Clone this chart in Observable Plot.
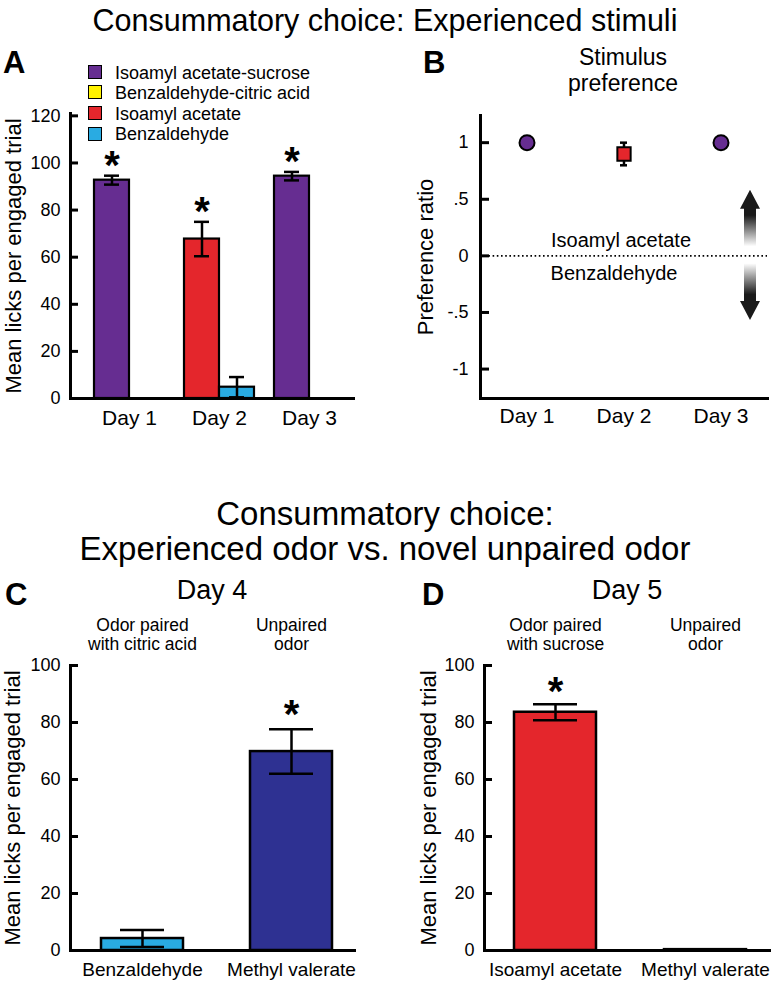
<!DOCTYPE html>
<html>
<head>
<meta charset="utf-8">
<script src="https://cdn.jsdelivr.net/npm/d3@7"></script>
<script src="https://cdn.jsdelivr.net/npm/@observablehq/plot@0.6"></script>
<style>
  body { margin: 0; background: #fff; }
  #fig { position: relative; width: 771px; height: 983px; overflow: hidden; background: #fff;
         font-family: "Liberation Sans", Arial, Helvetica, sans-serif; color: #000; }
  .t { position: absolute; white-space: nowrap; }
  .sw { position: absolute; width: 12px; height: 12px; border: 1.5px solid #000; }
</style>
</head>
<body>
<div id="fig"></div>
<script>
// ---------------- DATA ----------------
const days = ["Day 1", "Day 2", "Day 3"];
const stimuli = ["Isoamyl acetate-sucrose", "Benzaldehyde-citric acid", "Isoamyl acetate", "Benzaldehyde"];
const stimulusColors = ["#662d91", "#fff200", "#e4262c", "#29abe2"];

// Panel A: mean licks per engaged trial, two stimuli per day
const aFirstStim = ["Isoamyl acetate-sucrose", "Isoamyl acetate", "Isoamyl acetate-sucrose"];
const aFirstMean = [92.7, 67.7, 94.4];
const aFirstSem = [1.9, 7.3, 1.8];
const aSecondStim = ["Benzaldehyde-citric acid", "Benzaldehyde", "Benzaldehyde-citric acid"];
const aSecondMean = [0, 4.8, 0];
const aSecondSem = [0, 4.3, 0];
const aSignificant = [true, true, true];
const licksTicksA = [0, 20, 40, 60, 80, 100, 120];

// Panel B: preference ratio
const bStim = ["Isoamyl acetate-sucrose", "Isoamyl acetate", "Isoamyl acetate-sucrose"];
const bPref = [1, 0.9, 1];
const bSem = [0, 0.1, 0];
const bTicks = [-1, -0.5, 0, 0.5, 1];
const bTickLabels = ["-1", "-.5", "0", ".5", "1"];
const bZoneLabels = ["Isoamyl acetate", "Benzaldehyde"];
const bArrows = [{from: 0.08, to: 0.58}, {from: -0.07, to: -0.57}];

// Panel C: Day 4
const cOdors = ["Benzaldehyde", "Methyl valerate"];
const cHeaders = ["Odor paired\nwith citric acid", "Unpaired\nodor"];
const cMean = [4.2, 69.8];
const cSem = [3.0, 7.8];
const cColors = ["#29abe2", "#2e3192"];
const cSignificant = [false, true];

// Panel D: Day 5
const dOdors = ["Isoamyl acetate", "Methyl valerate"];
const dHeaders = ["Odor paired\nwith sucrose", "Unpaired\nodor"];
const dMean = [83.6, 0.3];
const dSem = [2.8, 0];
const dColors = ["#e4262c", "#2e3192"];
const dSignificant = [true, false];
const licksTicksCD = [0, 20, 40, 60, 80, 100];

// ---------------- HELPERS ----------------
const FONT = "'Liberation Sans', Arial, Helvetica, sans-serif";
const fig = document.getElementById("fig");
const svgStyle = {fontFamily: FONT, fontSize: "18px", color: "black", background: "transparent", overflow: "visible"};

function place(svg, left, top) {
  svg.style.position = "absolute";
  svg.style.left = left + "px";
  svg.style.top = top + "px";
  fig.appendChild(svg);
}
// HTML text positioned by its first baseline
function addText(str, {x, baseline, size, weight = "normal", anchor = "middle", lh = 1}) {
  const el = document.createElement("div");
  el.className = "t";
  el.style.fontSize = size + "px";
  el.style.fontWeight = weight;
  el.style.lineHeight = (lh * size) + "px";
  el.style.textAlign = anchor === "middle" ? "center" : "left";
  el.innerHTML = str.split("\n").join("<br>");
  const top = baseline - ((lh - 1.117) / 2 + 0.905) * size;
  el.style.top = top + "px";
  el.style.left = x + "px";
  if (anchor === "middle") el.style.transform = "translateX(-50%)";
  fig.appendChild(el);
}

function yAxisMarks(ticks, {tickLen, pad, labels, title, titleOffset}) {
  return [
    Plot.frame({anchor: "left", strokeWidth: 3}),
    Plot.axisY(ticks, {tickSize: tickLen, dx: tickLen, tickFormat: () => "", strokeWidth: 3, label: null}),
    Plot.axisY(ticks, {tickSize: 0, tickPadding: pad, fontSize: 18, label: null,
      tickFormat: labels ? (d => labels[ticks.indexOf(d)]) : (d => String(d))}),
    Plot.text([title], {frameAnchor: "left", textAnchor: "middle", rotate: -90, dx: -titleOffset, fontSize: 22})
  ];
}

// ---------------- PANEL A ----------------
const aRows = days.flatMap((day, i) => [
  {day, slot: 0, stim: aFirstStim[i], mean: aFirstMean[i], sem: aFirstSem[i], sig: aSignificant[i]},
  {day, slot: 1, stim: aSecondStim[i], mean: aSecondMean[i], sem: aSecondSem[i], sig: false}
]);
const aSlot0 = aRows.filter(d => d.slot === 0);
const aSlot1 = aRows.filter(d => d.slot === 1);
const errTop = d => d.mean + d.sem, errBot = d => d.mean - d.sem;

const plotA = Plot.plot({
  width: 385, height: 440, marginLeft: 70, marginRight: 30, marginTop: 113, marginBottom: 42,
  style: svgStyle,
  x: {domain: days, paddingInner: 0.2265, paddingOuter: 0.188, align: 0.676},
  y: {domain: [0, 121]},
  color: {domain: stimuli, range: stimulusColors},
  marks: [
    Plot.barY(aSlot0, {x: "day", y: "mean", fill: "stim", stroke: "black", strokeWidth: 2.2, insetRight: 35}),
    Plot.barY(aSlot1, {x: "day", y: "mean", fill: "stim", stroke: "black", strokeWidth: 2.2, insetLeft: 35}),
    Plot.ruleX(aSlot0.filter(d => d.sem > 0), {x: "day", y1: errBot, y2: errTop, dx: -17.5, strokeWidth: 2.5}),
    Plot.ruleX(aSlot1.filter(d => d.sem > 0), {x: "day", y1: errBot, y2: errTop, dx: 17.5, strokeWidth: 2.5}),
    Plot.tickY(aSlot0.filter(d => d.sem > 0), {x: "day", y: errTop, insetLeft: 10, insetRight: 45, strokeWidth: 2.5}),
    Plot.tickY(aSlot0.filter(d => d.sem > 0), {x: "day", y: errBot, insetLeft: 10, insetRight: 45, strokeWidth: 2.5}),
    Plot.tickY(aSlot1.filter(d => d.sem > 0), {x: "day", y: errTop, insetLeft: 45, insetRight: 10, strokeWidth: 2.5}),
    Plot.tickY(aSlot1.filter(d => d.sem > 0), {x: "day", y: errBot, insetLeft: 45, insetRight: 10, strokeWidth: 2.5}),
    Plot.text(aSlot0.filter(d => d.sig), {x: "day", y: errTop, text: () => "*", dx: -17.5, dy: 3,
      lineAnchor: "bottom", fontSize: 40, fontWeight: "bold"}),
    Plot.ruleY([0], {strokeWidth: 3}),
    ...yAxisMarks(licksTicksA, {tickLen: 8, pad: 10, title: "Mean licks per engaged trial", titleOffset: 57}),
    Plot.axisX({tickSize: 0, tickPadding: 12, fontSize: 21, label: null})
  ]
});
place(plotA, 0, 0);

// ---------------- PANEL B ----------------
const bRows = days.map((day, i) => ({day, stim: bStim[i], pref: bPref[i], sem: bSem[i]}));

function gradientArrows(index, scales, values, dims) {
  const ns = "http://www.w3.org/2000/svg";
  const g = document.createElementNS(ns, "g");
  const defs = document.createElementNS(ns, "defs");
  g.appendChild(defs);
  const x = dims.width - dims.marginRight - 17;
  bArrows.forEach((a, i) => {
    const y0 = scales.y(a.from), y1 = scales.y(a.to);
    const dir = Math.sign(y1 - y0);
    const head = 19, hw = 10, sw = 6;
    const yh = y1 - dir * head;
    const id = "arrowGrad" + i;
    const grad = document.createElementNS(ns, "linearGradient");
    grad.setAttribute("id", id);
    grad.setAttribute("x1", "0"); grad.setAttribute("y1", "0");
    grad.setAttribute("x2", "0"); grad.setAttribute("y2", "1");
    const stops = dir < 0
      ? [[0, "#1a1a1a"], [0.45, "#1a1a1a"], [1, "#ffffff"]]
      : [[0, "#ffffff"], [0.55, "#1a1a1a"], [1, "#1a1a1a"]];
    for (const [o, c] of stops) {
      const s = document.createElementNS(ns, "stop");
      s.setAttribute("offset", o); s.setAttribute("stop-color", c);
      grad.appendChild(s);
    }
    defs.appendChild(grad);
    const p = document.createElementNS(ns, "path");
    p.setAttribute("d", `M${x - sw},${y0}L${x - sw},${yh}L${x - hw},${yh}L${x},${y1}L${x + hw},${yh}L${x + sw},${yh}L${x + sw},${y0}Z`);
    p.setAttribute("fill", `url(#${id})`);
    g.appendChild(p);
  });
  return g;
}

const plotB = Plot.plot({
  width: 391, height: 440, marginLeft: 100, marginRight: 4, marginTop: 115, marginBottom: 42,
  style: svgStyle,
  x: {domain: days, paddingInner: 0.5, paddingOuter: 0.222},
  y: {domain: [-1.26, 1.24]},
  color: {domain: stimuli, range: stimulusColors},
  symbol: {domain: stimuli, range: ["circle", "circle", "square", "square"]},
  marks: [
    Plot.ruleY([0], {strokeDasharray: "1.6,2.6", strokeWidth: 1.8}),
    Plot.text([bZoneLabels[0]], {x: () => "Day 2", y: () => 0, dx: -3, dy: -9, lineAnchor: "bottom", fontSize: 20}),
    Plot.text([bZoneLabels[1]], {x: () => "Day 2", y: () => 0, dx: -10, dy: 10, lineAnchor: "top", fontSize: 20}),
    gradientArrows,
    Plot.ruleX(bRows.filter(d => d.sem > 0), {x: "day", y1: d => d.pref - d.sem, y2: d => d.pref + d.sem, strokeWidth: 2.5}),
    Plot.tickY(bRows.filter(d => d.sem > 0), {x: "day", y: d => d.pref + d.sem, insetLeft: 21, insetRight: 21, strokeWidth: 2.5}),
    Plot.tickY(bRows.filter(d => d.sem > 0), {x: "day", y: d => d.pref - d.sem, insetLeft: 21, insetRight: 21, strokeWidth: 2.5}),
    Plot.dot(bRows, {x: "day", y: "pref", fill: "stim", symbol: "stim", r: 7.5, stroke: "black", strokeWidth: 2}),
    Plot.frame({anchor: "bottom", strokeWidth: 3}),
    ...yAxisMarks(bTicks, {tickLen: 9, pad: 12, labels: bTickLabels, title: "Preference ratio", titleOffset: 55}),
    Plot.axisX({tickSize: 0, tickPadding: 10, fontSize: 21, label: null})
  ]
});
place(plotB, 380, 0);

// ---------------- PANELS C & D ----------------
function dayPanel(odors, headers, means, sems, colors, sig, {width, marginLeft, marginRight, titleOffset, starDy, align}) {
  const rows = odors.map((odor, i) => ({odor, mean: means[i], sem: sems[i], color: colors[i], sig: sig[i]}));
  const withErr = rows.filter(d => d.sem > 0);
  return Plot.plot({
    width, height: 383, marginLeft, marginRight, marginTop: 65, marginBottom: 33,
    style: svgStyle,
    x: {domain: odors, paddingInner: 0.453, paddingOuter: 0.18, align},
    y: {domain: [0, 100]},
    color: {type: "identity"},
    marks: [
      Plot.barY(rows, {x: "odor", y: "mean", fill: "color", stroke: "black", strokeWidth: 2.5}),
      Plot.ruleX(withErr, {x: "odor", y1: errBot, y2: errTop, strokeWidth: 2.5}),
      Plot.tickY(withErr, {x: "odor", y: errTop, insetLeft: 19, insetRight: 19, strokeWidth: 2.5}),
      Plot.tickY(withErr, {x: "odor", y: errBot, insetLeft: 19, insetRight: 19, strokeWidth: 2.5}),
      Plot.text(rows.filter(d => d.sig), {x: "odor", y: errTop, text: () => "*", dy: starDy,
        lineAnchor: "bottom", fontSize: 40, fontWeight: "bold"}),
      Plot.ruleY([0], {strokeWidth: 3}),
      ...yAxisMarks(licksTicksCD, {tickLen: 8, pad: 10, title: "Mean licks per engaged trial", titleOffset}),
      Plot.axisX({tickSize: 0, tickPadding: 12, fontSize: 19, label: null}),
      Plot.axisX({anchor: "top", tickSize: 0, tickPadding: 16, fontSize: 17.5, lineHeight: 1.07, label: null,
        tickFormat: d => headers[odors.indexOf(d)]})
    ]
  });
}
const plotC = dayPanel(cOdors, cHeaders, cMean, cSem, cColors, cSignificant,
  {width: 385, marginLeft: 70, marginRight: 29, titleOffset: 58, starDy: -1, align: 0.556});
place(plotC, 0, 600);
const plotD = dayPanel(dOdors, dHeaders, dMean, dSem, dColors, dSignificant,
  {width: 386, marginLeft: 99, marginRight: 0, titleOffset: 56, starDy: 1, align: 0.55});
place(plotD, 385, 600);

// ---------------- TITLES / LETTERS / LEGEND ----------------
addText("Consummatory choice: Experienced stimuli", {x: 385, baseline: 31, size: 30.5});
addText("A", {x: 3, baseline: 73, size: 31, weight: "bold", anchor: "start"});
addText("B", {x: 423, baseline: 73, size: 31, weight: "bold", anchor: "start"});
addText("Stimulus", {x: 623, baseline: 65, size: 23});
addText("preference", {x: 623, baseline: 91, size: 23});
addText("Consummatory choice:\nExperienced odor vs. novel unpaired odor", {x: 385, baseline: 526, size: 33, lh: 1.04});
addText("C", {x: 5, baseline: 605, size: 31, weight: "bold", anchor: "start"});
addText("D", {x: 422, baseline: 605, size: 31, weight: "bold", anchor: "start"});
addText("Day 4", {x: 212, baseline: 600, size: 27});
addText("Day 5", {x: 627, baseline: 600, size: 27});

const legendCenters = [72.3, 92.9, 113.5, 134.1];
stimuli.forEach((s, i) => {
  const sw = document.createElement("div");
  sw.className = "sw";
  sw.style.left = "88px";
  sw.style.top = (legendCenters[i] - 7.5) + "px";
  sw.style.background = stimulusColors[i];
  fig.appendChild(sw);
  addText(s, {x: 115, baseline: legendCenters[i] + 6.5, size: 18, anchor: "start"});
});
</script>
</body>
</html>
